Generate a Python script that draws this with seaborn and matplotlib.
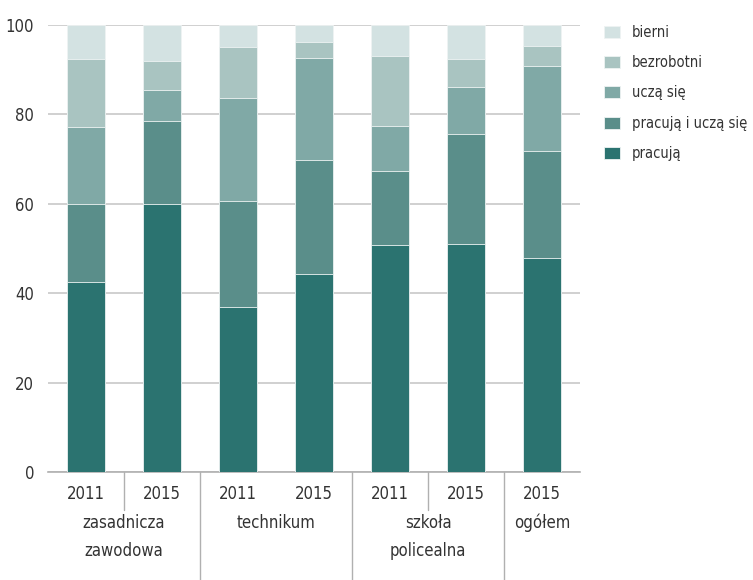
import numpy as np
import pandas as pd
import seaborn as sns
import matplotlib.pyplot as plt

# Data (percent shares, bottom to top)
years = ["2011", "2015", "2011", "2015", "2011", "2015", "2015"]
groups = ["zasadnicza\nzawodowa", "technikum", "szkoła\npolicealna", "ogółem"]
group_pos = [0.5, 2.5, 4.5, 6.0]
pracuja = [42.5, 60.0, 36.9, 44.4, 50.9, 51.0, 47.8]
pracuja_i_ucza = [17.5, 18.6, 23.8, 25.4, 16.5, 24.5, 23.9]
ucza_sie = [17.2, 6.9, 23.0, 22.7, 9.9, 10.6, 19.1]
bezrobotni = [15.2, 6.4, 11.3, 3.7, 15.8, 6.2, 4.4]
bierni = [7.6, 8.1, 5.0, 3.8, 6.9, 7.7, 4.8]

series = ["pracują", "pracują i uczą się", "uczą się", "bezrobotni", "bierni"]
colors = ["#2b7370", "#5a8e8a", "#80a9a6", "#a9c4c1", "#d3e2e2"]

sns.set_theme(style="white")
plt.rcParams["font.family"] = ["DejaVu Sans"]
plt.rcParams["font.stretch"] = "condensed"
text_color = "#333333"

values = np.array([pracuja, pracuja_i_ucza, ucza_sie, bezrobotni, bierni])
cum = np.cumsum(values, axis=0)

fig = plt.figure(figsize=(7.53, 5.80), dpi=100)
ax = fig.add_axes([0.0637, 0.186, 0.7066, 0.771])

x = np.arange(len(years))
# draw from the top segment down so each bar covers the one above it
for i in reversed(range(len(series))):
    df = pd.DataFrame({"x": x, "y": cum[i]})
    sns.barplot(data=df, x="x", y="y", color=colors[i], width=0.5,
                label=series[i], saturation=1, ax=ax, zorder=3,
                edgecolor="#eef3f3", linewidth=0.6)

ax.set_xlim(-0.5, 6.5)
ax.set_ylim(0, 100)
ax.set_yticks([0, 20, 40, 60, 80, 100])
ax.yaxis.grid(True, color="#c8c8c8", linewidth=1.2, zorder=0)
ax.set_axisbelow(True)
for s in ["top", "right", "left"]:
    ax.spines[s].set_visible(False)
ax.spines["bottom"].set_color("#b0b0b0")
ax.spines["bottom"].set_linewidth(1.2)
ax.set_xlabel("")
ax.set_ylabel("")
ax.set_xticks(x)
ax.set_xticklabels(years)
ax.tick_params(axis="x", length=0, pad=9, labelsize=12, colors=text_color)
ax.tick_params(axis="y", length=0, pad=10, labelsize=12, colors=text_color)

# separators under the axis
trans = ax.get_xaxis_transform()
for xs in [0.5, 4.5]:
    ax.plot([xs, xs], [0, -0.085], transform=trans, color="#b0b0b0",
            lw=1, clip_on=False)
for xs in [1.5, 3.5, 5.5]:
    ax.plot([xs, xs], [0, -0.245], transform=trans, color="#b0b0b0",
            lw=1, clip_on=False)

for g, gx in zip(groups, group_pos):
    ax.text(gx, -0.093, g, transform=trans, ha="center", va="top",
            fontsize=12, color=text_color, linespacing=1.7)

handles, labels = ax.get_legend_handles_labels()
leg = ax.legend(handles, labels, loc="upper left", bbox_to_anchor=(1.02, 1.03),
                frameon=False, fontsize=10.5, handlelength=1.1, handleheight=0.9,
                labelspacing=1.05, handletextpad=0.8)
for t in leg.get_texts():
    t.set_color(text_color)

fig.savefig("out.png", dpi=100)
